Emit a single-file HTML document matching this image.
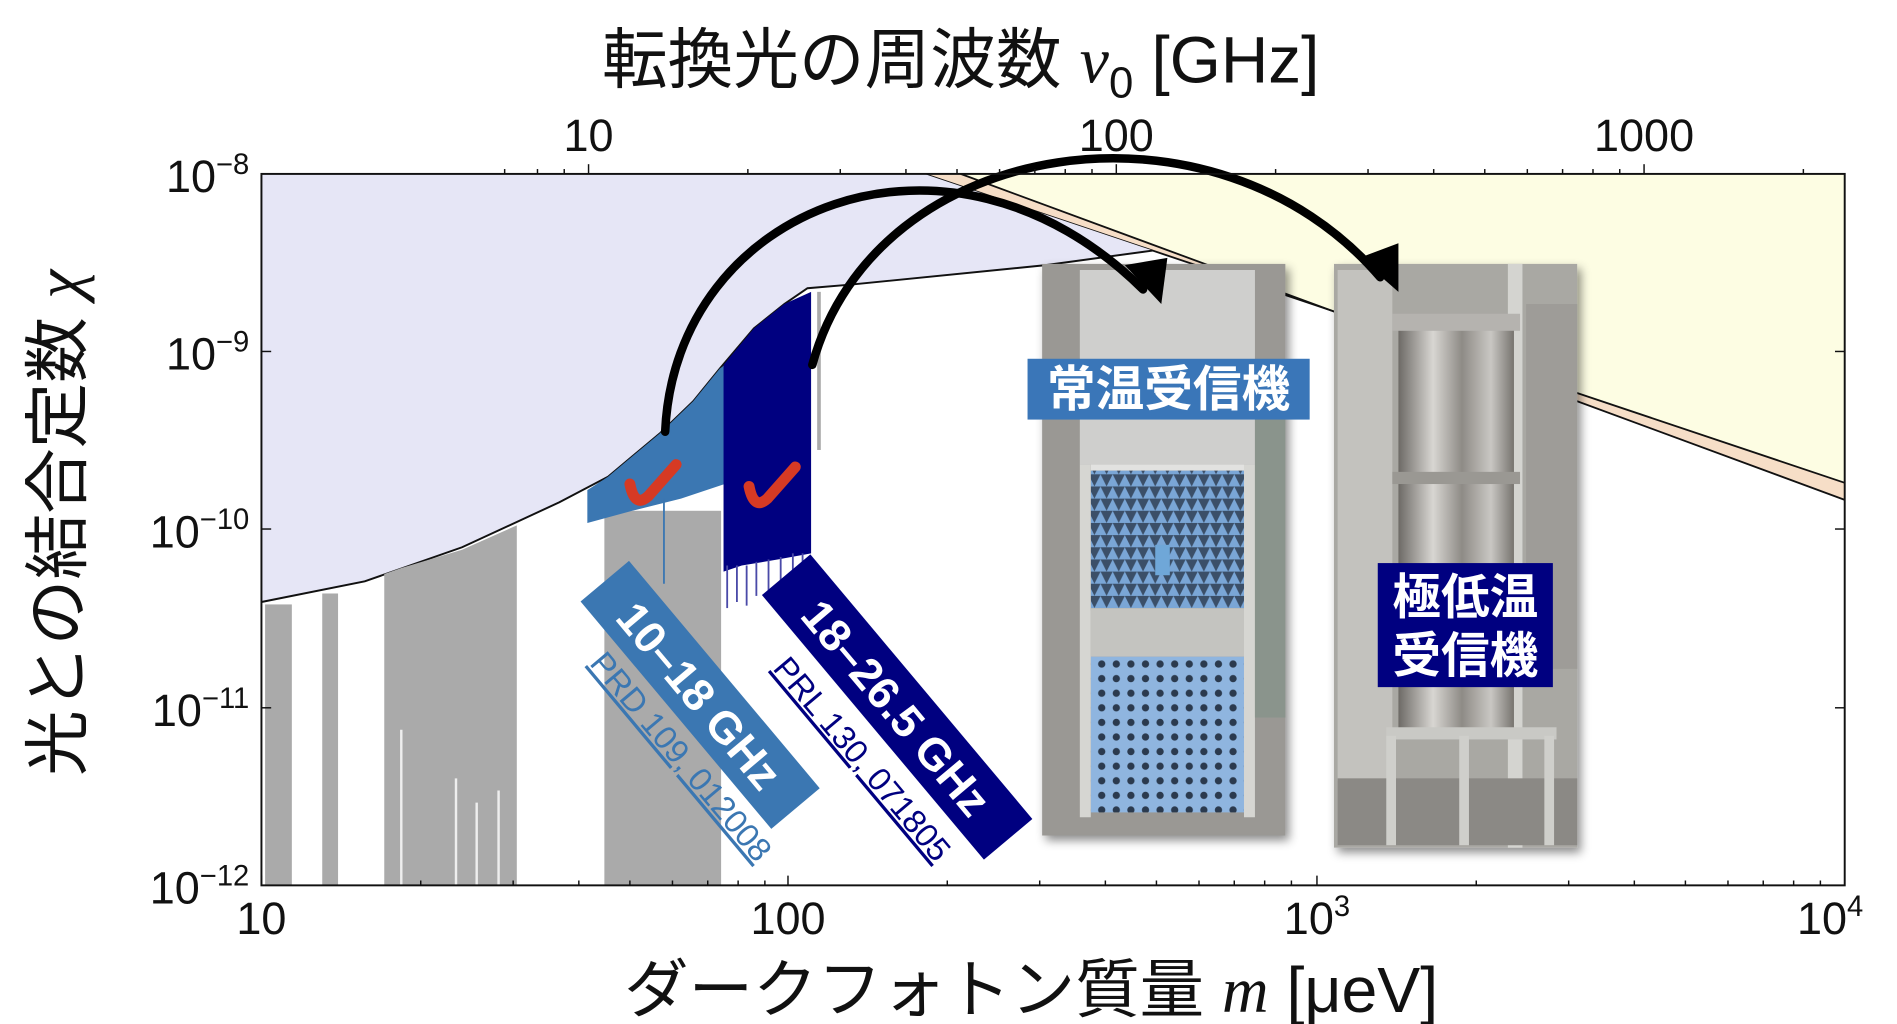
<!DOCTYPE html>
<html><head><meta charset="utf-8"><style>
html,body{margin:0;padding:0;background:#fff;}
svg{display:block;}
text{font-family:"Liberation Sans","Noto Sans CJK JP",sans-serif;}
</style></head><body>
<svg width="1897" height="1024" viewBox="0 0 1560 842" preserveAspectRatio="none" xmlns="http://www.w3.org/2000/svg">
<defs>
<linearGradient id="cyl" x1="0" x2="1" y1="0" y2="0">
<stop offset="0" stop-color="#6d6a66"/><stop offset="0.3" stop-color="#d8d6d2"/><stop offset="0.55" stop-color="#8e8b86"/><stop offset="0.8" stop-color="#c9c7c3"/><stop offset="1" stop-color="#77746f"/></linearGradient>
<pattern id="pyr" width="12" height="12" patternUnits="userSpaceOnUse">
<rect width="12" height="12" fill="#8fb5df"/><circle cx="6" cy="6" r="3" fill="#2b3a4e"/></pattern>
<pattern id="pyr2" width="10" height="10" patternUnits="userSpaceOnUse">
<rect width="10" height="10" fill="#3b4f68"/><path d="M0,10 L5,0 L10,10Z" fill="#7aa6d6"/></pattern>
<filter id="sh" x="-10%" y="-10%" width="130%" height="130%"><feDropShadow dx="3" dy="4" stdDeviation="4" flood-opacity="0.45"/></filter>
</defs>

<polygon points="760,143 1517,397 1517,143" fill="#fdfde3"/>
<polygon points="760,143 1517,397 1517,411 790,143" fill="#f6dec7"/>
<line x1="760" y1="143" x2="1517" y2="397" stroke="#111" stroke-width="1.5"/>
<line x1="790" y1="143" x2="1517" y2="411" stroke="#111" stroke-width="1.5"/>
<polygon points="215,143 760,143 948,206 860,218 700,234 664,237 645,250 620,270 592,303 570,330 543,356 500,392 460,413 380,450 300,478 215,495" fill="#e6e6f6"/>
<polyline points="215,495 300,478 380,450 460,413 500,392 543,356 570,330 592,303 620,270 645,250 664,237 700,234 860,218 948,206" fill="none" stroke="#111" stroke-width="1.6"/>

<g fill="#aaaaaa">
<rect x="218" y="497" width="22" height="231"/>
<rect x="265" y="488" width="13" height="240"/>
<polygon points="316,472 330,467 380,452 425,432 425,728 316,728"/>
<rect x="497" y="420" width="96" height="308"/>
<rect x="672" y="240" width="3" height="130"/>
</g>
<g stroke="#fff" stroke-width="2" opacity="0.8">
<line x1="330" y1="600" x2="330" y2="728"/><line x1="375" y1="640" x2="375" y2="728"/><line x1="392" y1="660" x2="392" y2="728"/><line x1="410" y1="650" x2="410" y2="728"/>
</g>
<polygon points="483,403 500,392 543,356 570,330 592,303 596,300 596,398 560,410 520,420 483,430" fill="#3b77b2"/>
<line x1="546" y1="410" x2="546" y2="480" stroke="#3b77b2" stroke-width="1.5"/>
<polygon points="595,300 620,270 645,250 667,240 667,455 640,460 610,465 595,470" fill="#000080"/>
<g stroke="#4a4aa8" stroke-width="1.5">
<line x1="598" y1="465" x2="598" y2="500"/><line x1="606" y1="465" x2="606" y2="495"/><line x1="614" y1="465" x2="614" y2="498"/><line x1="622" y1="462" x2="622" y2="490"/><line x1="632" y1="460" x2="632" y2="492"/><line x1="642" y1="458" x2="642" y2="488"/><line x1="652" y1="455" x2="652" y2="485"/><line x1="660" y1="455" x2="660" y2="478"/>
</g>
<path d="M518,398 Q522,418 533,408 L556,382" fill="none" stroke="#d63a24" stroke-width="9" stroke-linecap="round" stroke-linejoin="round"/>
<path d="M616,400 Q620,420 631,410 L654,384" fill="none" stroke="#d63a24" stroke-width="9" stroke-linecap="round" stroke-linejoin="round"/>

<g filter="url(#sh)">
<rect x="857" y="217" width="200" height="470" fill="#9a9894"/>
<rect x="1097" y="217" width="200" height="480" fill="#a9a8a3"/>
</g>
<rect x="888" y="222" width="144" height="160" fill="#cfcfcd"/>
<rect x="897" y="382" width="126" height="5" fill="#e2e2e0"/>
<rect x="897" y="387" width="126" height="115" fill="url(#pyr2)"/>
<rect x="950" y="448" width="12" height="25" fill="#6fa7d8"/>
<rect x="897" y="500" width="126" height="40" fill="#c4c4c0"/>
<rect x="897" y="540" width="126" height="128" fill="url(#pyr)"/>
<rect x="888" y="382" width="9" height="290" fill="#d6d6d2"/>
<rect x="1023" y="382" width="9" height="290" fill="#d6d6d2"/>
<rect x="1032" y="340" width="25" height="250" fill="#8a948c"/>
<rect x="1100" y="222" width="45" height="420" fill="#c3c2be"/>
<rect x="1240" y="217" width="12" height="480" fill="#d4d4d0"/>
<rect x="1255" y="250" width="42" height="300" fill="#9e9c98"/>
<rect x="1150" y="260" width="95" height="345" fill="url(#cyl)"/>
<rect x="1145" y="258" width="105" height="14" fill="#b5b3af"/>
<rect x="1145" y="388" width="105" height="10" fill="#9a9893"/>
<rect x="1140" y="598" width="140" height="10" fill="#c9c9c5"/>
<rect x="1100" y="640" width="197" height="55" fill="#8b8985"/>
<rect x="1140" y="605" width="8" height="90" fill="#cfcfcb"/>
<rect x="1270" y="605" width="8" height="90" fill="#cfcfcb"/>
<rect x="1200" y="605" width="8" height="90" fill="#cfcfcb"/>

<rect x="845" y="295" width="232" height="50" fill="#3a76b8"/>
<text x="961" y="334" font-size="40" font-weight="bold" fill="#fff" text-anchor="middle">常温受信機</text>
<rect x="1133" y="463" width="144" height="102" fill="#000080"/>
<text x="1205" y="505" font-size="40" font-weight="bold" fill="#fff" text-anchor="middle">極低温</text>
<text x="1205" y="553" font-size="40" font-weight="bold" fill="#fff" text-anchor="middle">受信機</text>

<g transform="translate(575,572) rotate(50)">
<rect x="-122" y="-27" width="244" height="52" fill="#3b77b2"/>
<text x="0" y="13" font-size="37" font-weight="bold" fill="#fff" text-anchor="middle">10–18 GHz</text>
</g>
<g transform="translate(553,628) rotate(50)">
<text x="0" y="0" font-size="27" fill="#3b77b2" text-anchor="middle" text-decoration="underline">PRD 109, 012008</text>
</g>
<g transform="translate(737,582) rotate(50)">
<rect x="-142" y="-27" width="284" height="52" fill="#000080"/>
<text x="0" y="13" font-size="37" font-weight="bold" fill="#fff" text-anchor="middle">18–26.5 GHz</text>
</g>
<g transform="translate(702,630) rotate(50)">
<text x="0" y="0" font-size="27" fill="#000080" text-anchor="middle" text-decoration="underline">PRL 130, 071805</text>
</g>

<path d="M547,355 C555,170 780,80 940,238" fill="none" stroke="#000" stroke-width="7" stroke-linecap="round"/>
<path d="M668,300 C720,110 1000,70 1135,228" fill="none" stroke="#000" stroke-width="7" stroke-linecap="round"/>
<polygon points="925,218 960,212 955,250" fill="#000"/>
<polygon points="1118,212 1150,200 1150,240" fill="#000"/>

<rect x="215" y="143" width="1302" height="585" fill="none" stroke="#111" stroke-width="1.6"/>
<g stroke="#111" stroke-width="1.2">
<line x1="215" y1="728" x2="215" y2="720"/><line x1="648" y1="728" x2="648" y2="720"/><line x1="1083" y1="728" x2="1083" y2="720"/>
<line x1="346" y1="728" x2="346" y2="724"/><line x1="422" y1="728" x2="422" y2="724"/><line x1="476" y1="728" x2="476" y2="724"/><line x1="518" y1="728" x2="518" y2="724"/><line x1="553" y1="728" x2="553" y2="724"/><line x1="582" y1="728" x2="582" y2="724"/><line x1="607" y1="728" x2="607" y2="724"/><line x1="629" y1="728" x2="629" y2="724"/>
<line x1="779" y1="728" x2="779" y2="724"/><line x1="855" y1="728" x2="855" y2="724"/><line x1="909" y1="728" x2="909" y2="724"/><line x1="951" y1="728" x2="951" y2="724"/><line x1="986" y1="728" x2="986" y2="724"/><line x1="1015" y1="728" x2="1015" y2="724"/><line x1="1040" y1="728" x2="1040" y2="724"/><line x1="1062" y1="728" x2="1062" y2="724"/>
<line x1="1214" y1="728" x2="1214" y2="724"/><line x1="1290" y1="728" x2="1290" y2="724"/><line x1="1344" y1="728" x2="1344" y2="724"/><line x1="1386" y1="728" x2="1386" y2="724"/><line x1="1421" y1="728" x2="1421" y2="724"/><line x1="1450" y1="728" x2="1450" y2="724"/><line x1="1475" y1="728" x2="1475" y2="724"/><line x1="1497" y1="728" x2="1497" y2="724"/>
<line x1="484" y1="143" x2="484" y2="135"/><line x1="918" y1="143" x2="918" y2="135"/><line x1="1352" y1="143" x2="1352" y2="135"/>
<line x1="615" y1="143" x2="615" y2="139"/><line x1="691" y1="143" x2="691" y2="139"/><line x1="745" y1="143" x2="745" y2="139"/><line x1="787" y1="143" x2="787" y2="139"/><line x1="822" y1="143" x2="822" y2="139"/><line x1="851" y1="143" x2="851" y2="139"/><line x1="876" y1="143" x2="876" y2="139"/><line x1="898" y1="143" x2="898" y2="139"/>
<line x1="1049" y1="143" x2="1049" y2="139"/><line x1="1125" y1="143" x2="1125" y2="139"/><line x1="1179" y1="143" x2="1179" y2="139"/><line x1="1221" y1="143" x2="1221" y2="139"/><line x1="1256" y1="143" x2="1256" y2="139"/><line x1="1285" y1="143" x2="1285" y2="139"/><line x1="1310" y1="143" x2="1310" y2="139"/><line x1="1332" y1="143" x2="1332" y2="139"/>
<line x1="415" y1="143" x2="415" y2="139"/><line x1="442" y1="143" x2="442" y2="139"/><line x1="464" y1="143" x2="464" y2="139"/><line x1="1483" y1="143" x2="1483" y2="139"/>
<line x1="215" y1="289" x2="223" y2="289"/><line x1="215" y1="435" x2="223" y2="435"/><line x1="215" y1="582" x2="223" y2="582"/>
<line x1="1517" y1="289" x2="1509" y2="289"/><line x1="1517" y1="435" x2="1509" y2="435"/><line x1="1517" y1="582" x2="1509" y2="582"/>
</g>

<g font-size="37" fill="#111">
<text x="215" y="768" text-anchor="middle">10</text>
<text x="648" y="768" text-anchor="middle">100</text>
<text x="1083" y="768" text-anchor="middle">10<tspan font-size="24" dy="-15">3</tspan></text>
<text x="1505" y="768" text-anchor="middle">10<tspan font-size="24" dy="-15">4</tspan></text>
<text x="484" y="124" text-anchor="middle">10</text>
<text x="918" y="124" text-anchor="middle">100</text>
<text x="1352" y="124" text-anchor="middle">1000</text>
<text x="205" y="158" text-anchor="end">10<tspan font-size="24" dy="-15">−8</tspan></text>
<text x="205" y="304" text-anchor="end">10<tspan font-size="24" dy="-15">−9</tspan></text>
<text x="205" y="450" text-anchor="end">10<tspan font-size="24" dy="-15">−10</tspan></text>
<text x="205" y="597" text-anchor="end">10<tspan font-size="24" dy="-15">−11</tspan></text>
<text x="205" y="743" text-anchor="end">10<tspan font-size="24" dy="-15">−12</tspan></text>
</g>

<text x="790" y="68" font-size="54" fill="#111" text-anchor="middle">転換光の周波数 <tspan font-family="Liberation Serif,serif" font-style="italic">ν</tspan><tspan font-size="36" dy="12">0</tspan><tspan dy="-12"> [GHz]</tspan></text>
<text x="848" y="832" font-size="53" fill="#111" text-anchor="middle">ダークフォトン質量 <tspan font-family="Liberation Serif,serif" font-style="italic">m</tspan> [μeV]</text>
<text transform="translate(66,430) rotate(-90)" font-size="54" fill="#111" text-anchor="middle">光との結合定数 <tspan font-family="Liberation Serif,serif" font-style="italic">χ</tspan></text>
</svg>
</body></html>
